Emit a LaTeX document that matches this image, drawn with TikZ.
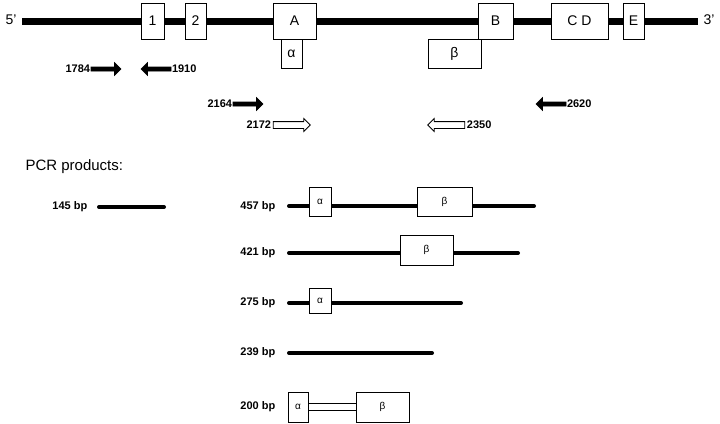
\documentclass[tikz,border=0pt]{standalone}
\usepackage{fontspec}
\setmainfont{Liberation Sans}
\usetikzlibrary{positioning, shapes.arrows}

\tikzset{
  exon/.style={draw, fill=white, line width=0.8pt},
  big/.style={font=\fontsize{14}{14}\selectfont},
  small/.style={font=\fontsize{10}{10}\selectfont},
  num/.style={font=\bfseries\fontsize{11}{11}\selectfont, inner sep=0.5pt},
  solidarrow/.style={single arrow, draw, fill=black, line width=0.6pt, inner sep=1.7pt,
    single arrow head extend=4.5pt, minimum height=30pt},
  openarrow/.style={single arrow, draw, fill=white, line width=0.8pt, inner sep=3pt,
    single arrow head extend=3pt, minimum height=37pt},
  back/.style={shape border rotate=180},
  product/.style={line width=4pt, line cap=round},
  link/.style={line width=0.8pt},
}

\begin{document}
\begin{tikzpicture}[x=1pt, y=-1pt]
  \useasboundingbox (0,0) rectangle (720,423);

  % gene
  \draw[line width=7pt] (22,21) -- (698,21);
  \node[big, anchor=east] (five) at (20,20) {5'};
  \node[big, anchor=west] (three) at (700,20) {3'};
  \draw[exon] (141,3) rectangle (164,39) node [midway, big] (ex1) {1};
  \draw[exon] (185,3) rectangle (206,39) node [midway, big] (ex2) {2};
  \draw[exon] (273,3) rectangle (316,39) node [midway, big] (exA) {A};
  \draw[exon] (281,39) rectangle (302,68) node [midway, big] (alpha) {α};
  \draw[exon] (428,39) rectangle (481,68) node [midway, big] (beta) {β};
  \draw[exon] (478,3) rectangle (513,39) node [midway, big] (exB) {B};
  \draw[exon] (551,3) rectangle (608,39) node [midway, big] (exCD) {C D};
  \draw[exon] (623,3) rectangle (644,39) node [midway, big] (exE) {E};

  % primers
  \node[solidarrow] (a1784) at (105,69) {};
  \node[num, left=0pt of a1784.tail] (t1784) {1784};
  \node[solidarrow, back] (a1910) at (157,69) {};
  \node[num, right=0pt of a1910.tail] (t1910) {1910};
  \node[solidarrow] (a2164) at (247,104) {};
  \node[num, left=0pt of a2164.tail] (t2164) {2164};
  \node[solidarrow, back] (a2620) at (552,104) {};
  \node[num, right=0pt of a2620.tail] (t2620) {2620};
  \node[openarrow] (a2172) at (290,125) {};
  \node[num, left=1pt of a2172.tail] (t2172) {2172};
  \node[openarrow, back] (a2350) at (448,125) {};
  \node[num, right=1pt of a2350.tail] (t2350) {2350};

  % PCR products
  \node[anchor=west, font=\fontsize{15}{15}\selectfont] (pcr) at (22,167) {PCR products:};

  \node[num, anchor=east] (l145) at (88,207) {145 bp};
  \draw[product] (99,207) -- (164,207);

  \node[num, anchor=east] (l457) at (276,207) {457 bp};
  \draw[product] (289,206) -- (534,206);
  \draw[exon] (309,187) rectangle (331,216) node [midway, small] (al457) {α};
  \draw[exon] (417,187) rectangle (472,216) node [midway, small] (be457) {β};

  \node[num, anchor=east] (l421) at (276,253) {421 bp};
  \draw[product] (289,253) -- (518,253);
  \draw[exon] (400,235) rectangle (453,265) node [midway, small] (be421) {β};

  \node[num, anchor=east] (l275) at (276,303) {275 bp};
  \draw[product] (289,303) -- (461,303);
  \draw[exon] (309,288) rectangle (331,313) node [midway, small] (al275) {α};

  \node[num, anchor=east] (l239) at (276,353) {239 bp};
  \draw[product] (289,353) -- (432,353);

  \node[num, anchor=east] (l200) at (276,407) {200 bp};
  \draw[exon] (288,392) rectangle (308,422) node [midway, small] (al200) {α};
  \draw[exon] (356,392) rectangle (409,422) node [midway, small] (be200) {β};
  \draw[link] (308,403) -- (356,403);
  \draw[link] (308,410) -- (356,410);
\end{tikzpicture}
\end{document}
